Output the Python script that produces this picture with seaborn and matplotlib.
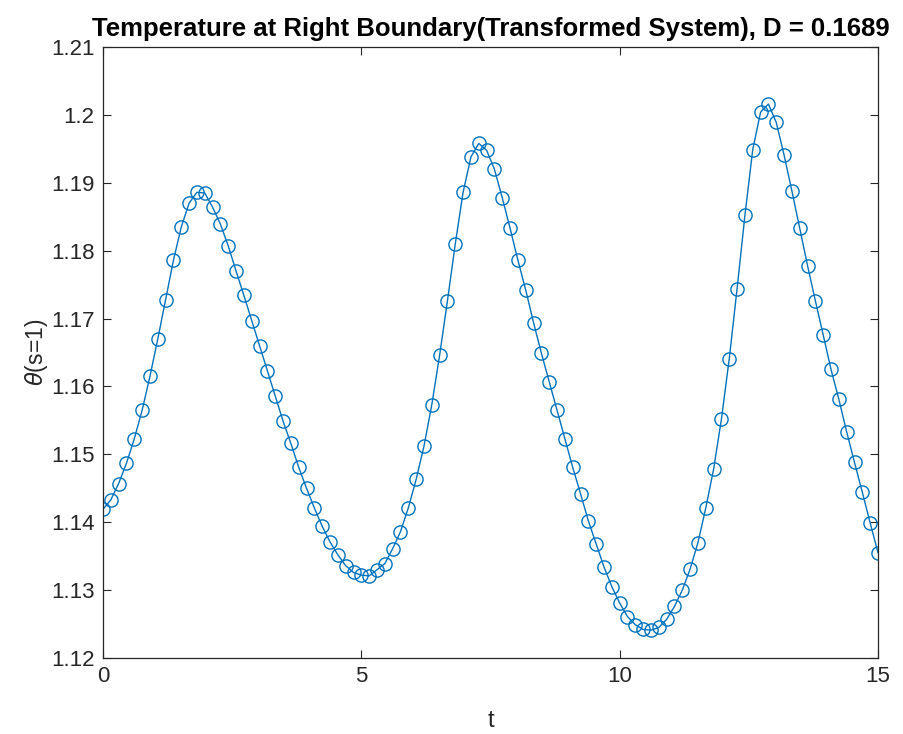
import numpy as np
import pandas as pd
import matplotlib
matplotlib.use("Agg")
import matplotlib.pyplot as plt
import seaborn as sns

# ---- data ----
t_start, t_end, n_points = 0.0, 15.0, 100
theta_values = [
    1.1419, 1.1433, 1.1457, 1.1487, 1.1523, 1.1565, 1.1615, 1.1670, 1.1728, 1.1786,
    1.1835, 1.1870, 1.1886, 1.1885, 1.1864, 1.1839, 1.1807, 1.1770, 1.1734, 1.1697,
    1.1660, 1.1623, 1.1586, 1.1549, 1.1516, 1.1481, 1.1450, 1.1421, 1.1394, 1.1371,
    1.1352, 1.1336, 1.1326, 1.1322, 1.1321, 1.1330, 1.1339, 1.1361, 1.1386, 1.1421,
    1.1463, 1.1512, 1.1573, 1.1646, 1.1726, 1.1810, 1.1886, 1.1938, 1.1958, 1.1948,
    1.1920, 1.1878, 1.1833, 1.1786, 1.1742, 1.1694, 1.1649, 1.1607, 1.1565, 1.1523,
    1.1481, 1.1442, 1.1402, 1.1368, 1.1334, 1.1305, 1.1281, 1.1261, 1.1249, 1.1242,
    1.1241, 1.1245, 1.1257, 1.1276, 1.1300, 1.1331, 1.1370, 1.1421, 1.1478, 1.1552,
    1.1641, 1.1744, 1.1852, 1.1949, 1.2004, 1.2016, 1.1989, 1.1941, 1.1888, 1.1833,
    1.1778, 1.1726, 1.1676, 1.1625, 1.1581, 1.1533, 1.1488, 1.1444, 1.1399, 1.1355,
]
title_text = "Temperature at Right Boundary(Transformed System), D = 0.1689"
x_label = "t"
y_label = r"$\theta$(s=1)"
x_ticks = [0, 5, 10, 15]
x_tick_labels = ["0", "5", "10", "15"]
y_ticks = [1.12, 1.13, 1.14, 1.15, 1.16, 1.17, 1.18, 1.19, 1.20, 1.21]
y_tick_labels = ["1.12", "1.13", "1.14", "1.15", "1.16", "1.17", "1.18", "1.19", "1.2", "1.21"]

# ---- style ----
sns.set_theme(style="white")
plt.rcParams['font.family'] = ['Liberation Sans', 'DejaVu Sans']
plt.rcParams['mathtext.fontset'] = 'dejavusans'

line_color = "#0072BD"
axis_color = "#262626"

W, H = 904, 734
fig = plt.figure(figsize=(W / 100, H / 100), dpi=100)
fig.patch.set_facecolor("white")
ax = fig.add_axes([103 / W, 1 - 658 / H, 775 / W, 611 / H])

t = np.linspace(t_start, t_end, n_points)
df = pd.DataFrame({"t": t, "theta": theta_values})
sns.lineplot(data=df, x="t", y="theta", ax=ax, color=line_color, linewidth=1.0,
             marker="o", markersize=9.5, markerfacecolor="none",
             markeredgecolor=line_color, markeredgewidth=1.0,
             estimator=None, sort=False)

ax.set_xlim(0, 15)
ax.set_ylim(1.12, 1.21)
ax.set_xticks(x_ticks)
ax.set_xticklabels(x_tick_labels)
ax.set_yticks(y_ticks)
ax.set_yticklabels(y_tick_labels)

for sp in ax.spines.values():
    sp.set_visible(True)
    sp.set_color(axis_color)
    sp.set_linewidth(0.9)

ax.tick_params(axis="both", which="both", direction="in", length=5.6, width=0.8,
               color=axis_color, labelcolor=axis_color, labelsize=16,
               top=True, right=True, bottom=True, left=True, pad=6)

ax.set_xlabel(x_label, fontsize=17, color=axis_color, labelpad=16)
ax.set_ylabel(y_label, fontsize=16.5, color=axis_color, labelpad=1)
ax.set_title(title_text, fontsize=18.5, fontweight="bold", color="#000000", pad=8)
ax.grid(False)

fig.savefig("out.png", dpi=100, facecolor="white")
